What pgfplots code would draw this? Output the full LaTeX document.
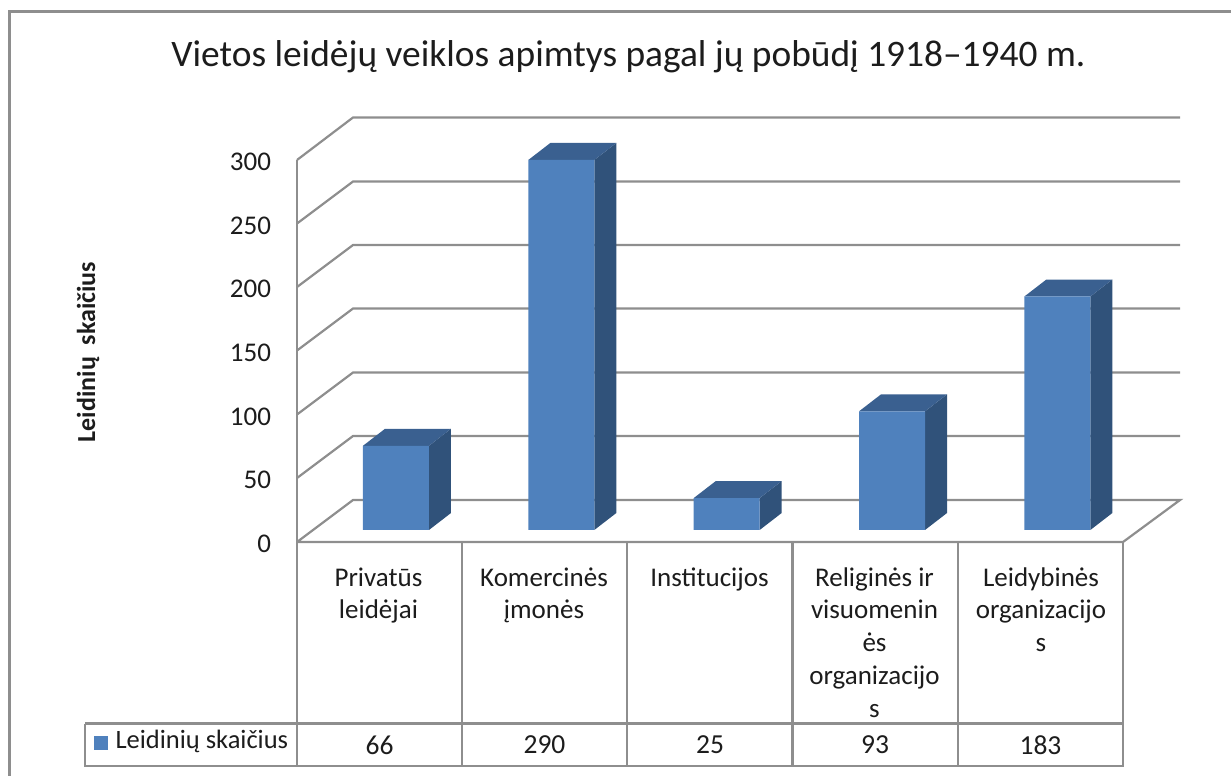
\documentclass[border=0pt]{standalone}
\usepackage{pgfplots}
\pgfplotsset{compat=1.18}
\usepackage{fontspec}
\setmainfont{Carlito}
\definecolor{gl}{HTML}{8E8E8E}
\definecolor{front}{HTML}{4F81BD}
\definecolor{side}{HTML}{30527A}
\definecolor{topf}{HTML}{3A6090}
\definecolor{txt}{HTML}{1C1C1C}
\newcommand{\fs}[1]{\fontsize{#1}{#1}\selectfont}
\newcommand{\fl}{\fontsize{27}{32.7}\selectfont}
\pgfplotsset{gr/.style={gl,line width=2.2pt,line join=miter,mark=none}}
\begin{document}
\begin{tikzpicture}
\useasboundingbox (0,0) rectangle (1231pt,776pt);
% background, pixel coordinates
\begin{axis}[at={(0pt,0pt)},anchor=south west,scale only axis,width=1231pt,height=776pt,
  xmin=0,xmax=1231,ymin=0,ymax=776,y dir=reverse,hide axis,clip=false]
\addplot[gr] coordinates {(9.5,776) (9.5,11.5) (1231,11.5)};
\addplot[gr] coordinates {(297,160) (353,117.5) (1180,117.5)};
\addplot[gr] coordinates {(297,223.5) (353,181.5) (1180,181.5)};
\addplot[gr] coordinates {(297,287) (353,245) (1180,245)};
\addplot[gr] coordinates {(297,350.5) (353,308.5) (1180,308.5)};
\addplot[gr] coordinates {(297,414.5) (353,372.5) (1180,372.5)};
\addplot[gr] coordinates {(297,478) (353,436) (1180,436)};
\addplot[gr] coordinates {(297,542) (353,500) (1180,500) (1123,542) (297,542)};
\addplot[gr] coordinates {(297,160) (297,766)};
\addplot[gr] coordinates {(462,542) (462,766)};
\addplot[gr] coordinates {(627,542) (627,766)};
\addplot[gr] coordinates {(792.5,542) (792.5,766)};
\addplot[gr] coordinates {(958,542) (958,766)};
\addplot[gr] coordinates {(1123,542) (1123,766)};
\addplot[gr] coordinates {(85,723.5) (1123,723.5) (1123,766) (85,766) (85,723.5)};
\addplot[fill=front,draw=none] coordinates {(94,736) (108,736) (108,750) (94,750)} --cycle;
\node[txt,font=\fs{37.4}] at (axis cs:628.5,57) {Vietos leidėjų veiklos apimtys pagal jų pobūdį 1918–1940 m.};
\node[txt,font=\fs{26}\bfseries,rotate=90] at (axis cs:88,352) {Leidinių\ \ skaičius};
\node[txt,font=\fs{26.5},anchor=west] at (axis cs:112,741) {Leidinių skaičius};
\node[txt,font=\fs{27.5}] at (axis cs:379.5,745) {66};
\node[txt,font=\fs{27.5}] at (axis cs:544.5,745) {290};
\node[txt,font=\fs{27.5}] at (axis cs:710,745) {25};
\node[txt,font=\fs{27.5}] at (axis cs:875,745) {93};
\node[txt,font=\fs{27.5}] at (axis cs:1040.5,745) {183};
\node[txt,font=\fl,align=center,anchor=north] at (axis cs:378.5,564) {Privatūs\\leidėjai};
\node[txt,font=\fl,align=center,anchor=north] at (axis cs:544,564) {Komercinės\\įmonės};
\node[txt,font=\fl,align=center,anchor=north] at (axis cs:709.5,564) {Institucijos};
\node[txt,font=\fl,align=center,anchor=north] at (axis cs:874.5,564) {Religinės ir\\visuomenin\\ės\\organizacijo\\s};
\node[txt,font=\fl,align=center,anchor=north] at (axis cs:1041,564) {Leidybinės\\organizacijo\\s};
\end{axis}
% value axis on the front wall
\begin{axis}[at={(297pt,234pt)},anchor=south west,scale only axis,width=826pt,height=382pt,
  xmin=0,xmax=1,ymin=0,ymax=300,ytick={0,50,100,150,200,250,300},xtick=\empty,
  axis line style={draw=none},major tick style={draw=none},
  /pgf/number format/assume math mode=true,
  yticklabel style={font=\fs{27},text=txt,yshift=-2pt,xshift=-22.5pt}]
\end{axis}
% bars
\begin{axis}[at={(0pt,0pt)},anchor=south west,scale only axis,width=1231pt,height=776pt,
  xmin=-2.3949,xmax=5.0499,ymin=-192.79,ymax=415.36,hide axis,clip=false]
% side faces
\addplot[fill=side,draw=none] coordinates {(0.1995,0) (0.3325,13.3) (0.3325,79.3) (0.1995,66)} --cycle;
\addplot[fill=side,draw=none] coordinates {(1.1995,0) (1.3325,13.3) (1.3325,303.3) (1.1995,290)} --cycle;
\addplot[fill=side,draw=none] coordinates {(2.1995,0) (2.3325,13.3) (2.3325,38.3) (2.1995,25)} --cycle;
\addplot[fill=side,draw=none] coordinates {(3.1995,0) (3.3325,13.3) (3.3325,106.3) (3.1995,93)} --cycle;
\addplot[fill=side,draw=none] coordinates {(4.1995,0) (4.3325,13.3) (4.3325,196.3) (4.1995,183)} --cycle;
% top faces
\addplot[fill=topf,draw=none] coordinates {(-0.1995,66) (-0.0665,79.3) (0.3325,79.3) (0.1995,66)} --cycle;
\addplot[fill=topf,draw=none] coordinates {(0.8005,290) (0.9335,303.3) (1.3325,303.3) (1.1995,290)} --cycle;
\addplot[fill=topf,draw=none] coordinates {(1.8005,25) (1.9335,38.3) (2.3325,38.3) (2.1995,25)} --cycle;
\addplot[fill=topf,draw=none] coordinates {(2.8005,93) (2.9335,106.3) (3.3325,106.3) (3.1995,93)} --cycle;
\addplot[fill=topf,draw=none] coordinates {(3.8005,183) (3.9335,196.3) (4.3325,196.3) (4.1995,183)} --cycle;
% front faces
\addplot[ybar,bar width=66pt,bar shift=0pt,fill=front,draw=none] coordinates {(0,66) (1,290) (2,25) (3,93) (4,183)};
\end{axis}
\end{tikzpicture}
\end{document}
